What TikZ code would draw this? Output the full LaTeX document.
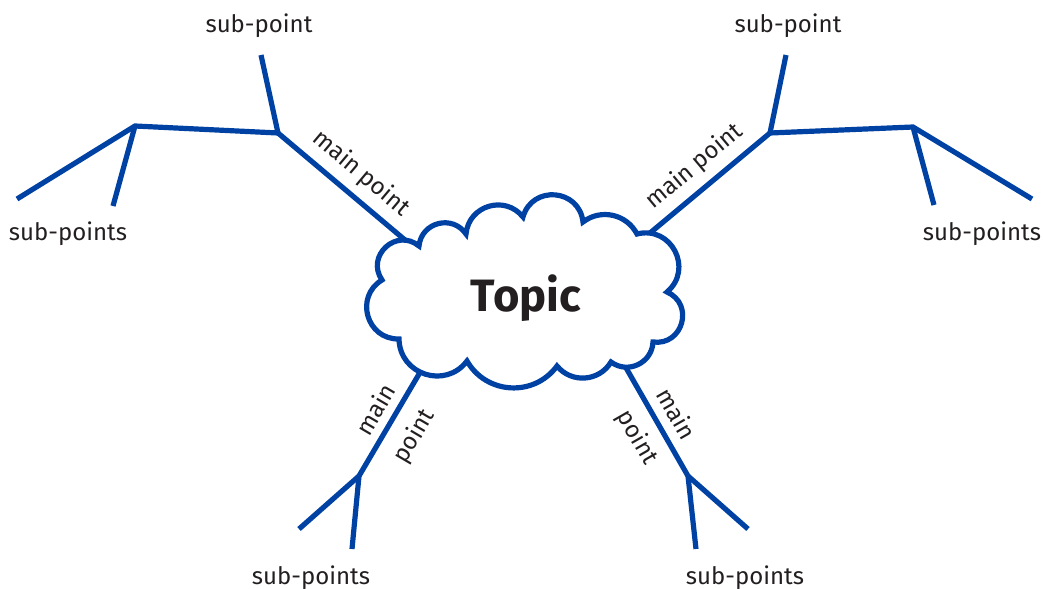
\documentclass[tikz,border=0pt]{standalone}
\usepackage{fontspec}
\setmainfont{Fira Sans}
\definecolor{mapblue}{RGB}{0,66,163}
\definecolor{ink}{RGB}{35,31,32}
\begin{document}
\begin{tikzpicture}[x=0.75pt,y=0.75pt,
  branch/.style={draw=mapblue,line width=3.9pt},
  cloudline/.style={draw=mapblue,line width=3.9pt,fill=white,line join=miter,miter limit=3},
  lbl/.style={text=ink,font=\fontsize{18}{21}\selectfont,inner sep=0pt},
  toplbl/.style={text=ink,font=\bfseries\fontsize{34}{40}\selectfont,inner sep=0pt}]
\useasboundingbox (0,0) rectangle (1043,-589);
% coordinates
\coordinate (J1a) at (278,-133);
\coordinate (J1b) at (135,-126);
\coordinate (e1) at (261,-55);
\coordinate (e2) at (17,-199);
\coordinate (e3) at (113,-206);
\coordinate (c1) at (405,-240);
\coordinate (J2a) at (770,-133);
\coordinate (J2b) at (913,-127);
\coordinate (e4) at (786,-55);
\coordinate (e5) at (1032,-199);
\coordinate (e6) at (934,-205);
\coordinate (c2) at (650,-233);
\coordinate (J3) at (359,-476);
\coordinate (c3) at (422,-369);
\coordinate (e7) at (299,-529);
\coordinate (e8) at (352,-549);
\coordinate (J4) at (688,-476);
\coordinate (c4) at (625,-366);
\coordinate (e9) at (748,-529);
\coordinate (e10) at (696,-549);
% top-left branch
\draw[branch] (e2) -- (J1b) -- (J1a) -- node[lbl,sloped,above=6pt,pos=.54]{main point} (c1);
\draw[branch] (e3) -- (J1b);
\draw[branch] (e1) -- (J1a);
% top-right branch
\draw[branch] (c2) -- node[lbl,sloped,above=6pt,pos=.49]{main point} (J2a) -- (J2b) -- (e5);
\draw[branch] (e4) -- (J2a);
\draw[branch] (e6) -- (J2b);
% bottom-left branch
\draw[branch] (J3) -- node[lbl,sloped,above=6pt,pos=.53]{main} node[lbl,sloped,below=10pt,pos=.5]{point} (c3);
\draw[branch] (e7) -- (J3);
\draw[branch] (e8) -- (J3);
% bottom-right branch
\draw[branch] (c4) -- node[lbl,sloped,above=7pt,pos=.53]{main} node[lbl,sloped,below=8pt,pos=.535]{point} (J4);
\draw[branch] (e9) -- (J4);
\draw[branch] (e10) -- (J4);
% cloud
\draw[cloudline] (382,-280) to[bend left=82,looseness=1.49] (419,-246)
  to[bend left=70,looseness=1.27] (466,-234)
  to[bend left=68,looseness=1.24] (523,-217)
  to[bend left=79,looseness=1.43] (583,-222)
  to[bend left=50,looseness=1.04] (637,-234)
  to[bend left=77,looseness=1.39] (667,-292)
  to[bend left=82,looseness=1.49] (653,-342)
  to[bend left=62,looseness=1.16] (611,-362)
  to[bend left=55,looseness=1.08] (557,-366)
  to[bend left=57,looseness=1.10] (467,-361)
  to[bend left=71,looseness=1.28] (399,-339)
  to[bend left=75,looseness=1.35] (382,-280) -- cycle;
\node[toplbl,anchor=base] (topic) at (526,-311.7) {Topic};
% sub-point labels
\node[lbl,anchor=base] (s1) at (259,-32) {sub-point};
\node[lbl,anchor=base] (s2) at (788,-32) {sub-point};
\node[lbl,anchor=base] (s3) at (68,-240.7) {sub-points};
\node[lbl,anchor=base] (s4) at (982,-240.7) {sub-points};
\node[lbl,anchor=base] (s5) at (311,-584) {sub-points};
\node[lbl,anchor=base] (s6) at (745,-584) {sub-points};
\end{tikzpicture}
\end{document}
